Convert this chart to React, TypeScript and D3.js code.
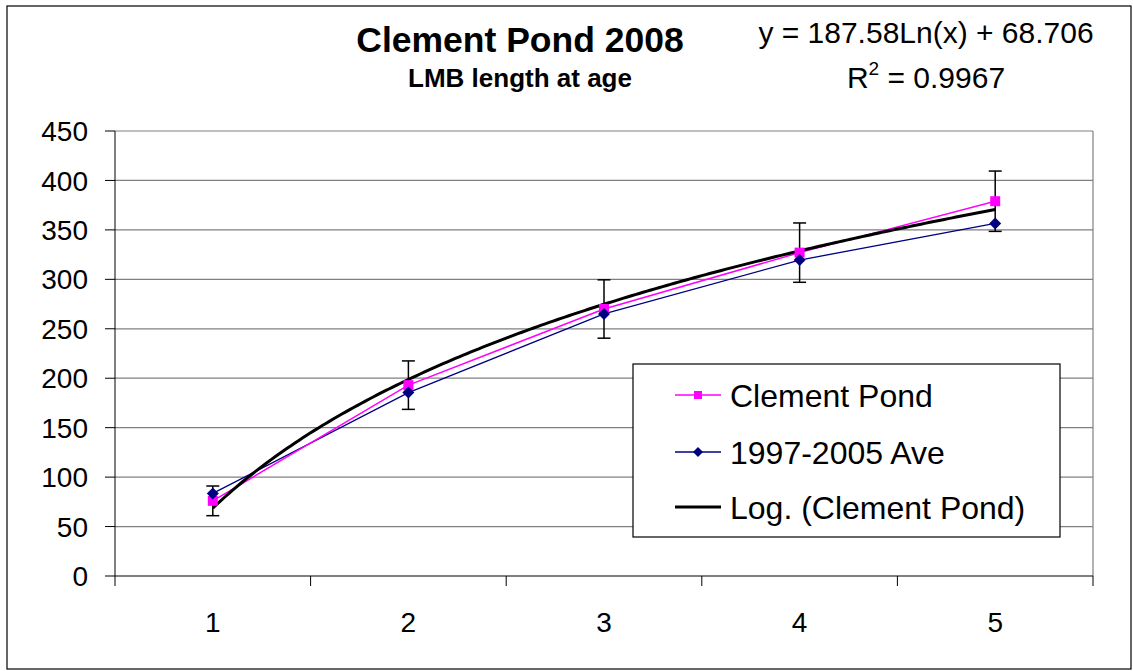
import React from "react";
import * as d3 from "d3";

const categories = [1, 2, 3, 4, 5];
const clementPond = [76, 193, 270, 327, 379];
const clementErr = [15, 24.5, 29.5, 30, 30.5];
const average = [83.5, 185.5, 265, 319.5, 356.5];
const yTicks = [0, 50, 100, 150, 200, 250, 300, 350, 400, 450];
const trendA = 187.58;
const trendB = 68.706;

const W = 1133;
const H = 671;
const PL = 115, PR = 1093, PT = 131, PB = 576;
const FONT = "'Liberation Sans', Arial, sans-serif";

const diamondPath = (r: number) => `M0,${-r}L${r},0L0,${r}L${-r},0Z`;

export default function App() {
  const x = d3.scaleBand<number>().domain(categories).range([PL, PR]);
  const y = d3.scaleLinear().domain([0, 450]).range([PB, PT]);
  const cx = (c: number) => (x(c) as number) + x.bandwidth() / 2;
  const xc = d3.scaleLinear().domain([1, 5]).range([cx(1), cx(5)]);

  const lineGen = d3.line<number>().x((_, i) => cx(categories[i])).y((d) => y(d));
  const trendPts = d3.range(0, 201).map((i) => 1 + (4 * i) / 200);
  const trendLine = d3
    .line<number>()
    .x((t) => xc(t))
    .y((t) => y(trendA * Math.log(t) + trendB));

  const legendX = 633, legendY = 364, legendW = 427, legendH = 173;
  const legendRows = [395, 452, 507];

  return (
    <svg width={W} height={H} style={{ position: "absolute", left: 0, top: 0 }} fontFamily={FONT}>
      <rect x={0} y={0} width={W} height={H} fill="#fff" />
      <rect x={7} y={6} width={1124} height={663} fill="none" stroke="#000" strokeWidth={1.2} />
      {yTicks.map((t) => (
        <g key={t}>
          {t > 0 && <line x1={PL} x2={PR} y1={y(t)} y2={y(t)} stroke="#808080" strokeWidth={1.2} />}
          <line x1={PL - 10} x2={PL} y1={y(t)} y2={y(t)} stroke="#000" />
          <text x={88} y={y(t)} dy="0.36em" textAnchor="end" fontSize={28}>
            {t}
          </text>
        </g>
      ))}
      <line x1={PR} x2={PR} y1={PT} y2={PB} stroke="#808080" strokeWidth={1.2} />
      <line x1={PL} x2={PL} y1={PT} y2={PB} stroke="#000" strokeWidth={1} />
      <line x1={PL} x2={PR} y1={PB} y2={PB} stroke="#000" strokeWidth={1.2} />
      {categories.map((c, i) => (
        <g key={c}>
          <line x1={(x(c) as number) + x.bandwidth()} x2={(x(c) as number) + x.bandwidth()} y1={PB} y2={PB + 10} stroke="#000" />
          {i === 0 && <line x1={PL} x2={PL} y1={PB} y2={PB + 10} stroke="#000" />}
          <text x={cx(c)} y={632} textAnchor="middle" fontSize={28}>
            {c}
          </text>
        </g>
      ))}
      <path d={lineGen(average) || ""} fill="none" stroke="#000080" strokeWidth={1.3} />
      <path d={lineGen(clementPond) || ""} fill="none" stroke="#ff00ff" strokeWidth={1.5} />
      <path d={trendLine(trendPts) || ""} fill="none" stroke="#000" strokeWidth={3} />
      {categories.map((c, i) => {
        const px = cx(c);
        const top = y(clementPond[i] + clementErr[i]);
        const bot = y(clementPond[i] - clementErr[i]);
        return (
          <g key={"e" + c} stroke="#000" strokeWidth={1.5}>
            <line x1={px} x2={px} y1={top} y2={bot} />
            <line x1={px - 6.5} x2={px + 6.5} y1={top} y2={top} />
            <line x1={px - 6.5} x2={px + 6.5} y1={bot} y2={bot} />
          </g>
        );
      })}
      {clementPond.map((v, i) => (
        <rect key={"s" + i} x={cx(categories[i]) - 5} y={y(v) - 5} width={10} height={10} fill="#ff00ff" />
      ))}
      {average.map((v, i) => (
        <path key={"d" + i} d={diamondPath(6)} transform={`translate(${cx(categories[i])},${y(v)})`} fill="#000080" />
      ))}
      <text x={520} y={52} textAnchor="middle" fontSize={35.5} fontWeight="bold">
        Clement Pond 2008
      </text>
      <text x={520} y={87} textAnchor="middle" fontSize={26} fontWeight="bold">
        LMB length at age
      </text>
      <text x={926} y={43} textAnchor="middle" fontSize={30}>
        y = 187.58Ln(x) + 68.706
      </text>
      <text x={926} y={88} textAnchor="middle" fontSize={30}>
        R<tspan dy={-13} fontSize={19}>2</tspan>
        <tspan dy={13}> = 0.9967</tspan>
      </text>
      <rect x={legendX} y={legendY} width={legendW} height={legendH} fill="#fff" stroke="#000" strokeWidth={1.2} />
      <line x1={675} x2={721} y1={legendRows[0]} y2={legendRows[0]} stroke="#ff00ff" strokeWidth={1.5} />
      <rect x={694} y={legendRows[0] - 4} width={8} height={8} fill="#ff00ff" />
      <line x1={675} x2={721} y1={legendRows[1]} y2={legendRows[1]} stroke="#000080" strokeWidth={1.3} />
      <path d={diamondPath(5)} transform={`translate(698,${legendRows[1]})`} fill="#000080" />
      <line x1={675} x2={721} y1={legendRows[2]} y2={legendRows[2]} stroke="#000" strokeWidth={3} />
      {["Clement Pond", "1997-2005 Ave", "Log. (Clement Pond)"].map((t, i) => (
        <text key={t} x={730} y={legendRows[i]} dy="0.36em" fontSize={32}>
          {t}
        </text>
      ))}
    </svg>
  );
}
